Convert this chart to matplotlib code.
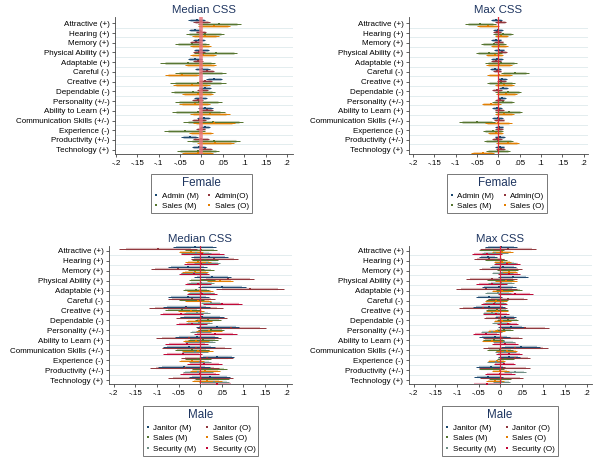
import matplotlib
matplotlib.use('Agg')
import matplotlib.pyplot as plt
from matplotlib.lines import Line2D
import numpy as np

plt.rcParams['font.family'] = ['Liberation Sans', 'DejaVu Sans']

categories = ["Attractive (+)", "Hearing (+)", "Memory (+)", "Physical Ability (+)",
              "Adaptable (+)", "Careful (-)", "Creative (+)", "Dependable (-)",
              "Personality (+/-)", "Ability to Learn (+)", "Communication Skills (+/-)",
              "Experience (-)", "Productivity (+/-)", "Technology (+)"]
x_ticks = [-0.2, -0.15, -0.1, -0.05, 0, 0.05, 0.1, 0.15, 0.2]
x_labels = ["-.2", "-.15", "-.1", "-.05", "0", ".05", ".1", ".15", ".2"]

# ---------- Female, Median CSS (point estimate b, 95% CI half-width hw) ----------
fmed_admin_m_b = [-0.011, -0.016, -0.006, 0.0, -0.015, 0.002, 0.030, 0.008, -0.002, 0.009, 0.005, 0.008, -0.028, -0.006]
fmed_admin_m_hw = [0.020, 0.014, 0.015, 0.017, 0.017, 0.017, 0.019, 0.015, 0.016, 0.017, 0.016, 0.012, 0.019, 0.017]
fmed_admin_o_b = [0.0, -0.002, -0.014, -0.006, -0.008, 0.014, 0.009, 0.002, -0.009, 0.013, -0.006, -0.002, -0.001, 0.009]
fmed_admin_o_hw = [0.019, 0.012, 0.012, 0.014, 0.012, 0.016, 0.015, 0.013, 0.013, 0.015, 0.016, 0.011, 0.019, 0.015]
fmed_sales_m_b = [0.042, 0.008, -0.022, 0.033, -0.032, -0.002, -0.008, -0.020, -0.007, -0.008, 0.027, -0.039, 0.029, -0.008]
fmed_sales_m_hw = [0.050, 0.045, 0.040, 0.050, 0.064, 0.060, 0.065, 0.052, 0.055, 0.062, 0.071, 0.048, 0.062, 0.050]
fmed_sales_o_b = [0.029, 0.009, -0.002, 0.003, -0.002, -0.045, -0.023, -0.009, -0.016, 0.019, 0.029, -0.002, 0.032, -0.009]
fmed_sales_o_hw = [0.038, 0.031, 0.024, 0.031, 0.037, 0.040, 0.044, 0.037, 0.036, 0.047, 0.050, 0.028, 0.043, 0.037]

# ---------- Female, Max CSS ----------
fmax_admin_m_b = [-0.005, -0.001, -0.005, 0.002, -0.003, -0.007, 0.009, 0.012, 0.008, -0.003, -0.002, 0.002, 0.003, 0.003]
fmax_admin_m_hw = [0.013, 0.012, 0.012, 0.012, 0.014, 0.012, 0.011, 0.011, 0.010, 0.012, 0.012, 0.010, 0.012, 0.011]
fmax_admin_o_b = [0.005, -0.003, 0.001, 0.009, -0.005, -0.003, 0.007, -0.003, 0.003, 0.002, 0.002, 0.002, -0.003, 0.005]
fmax_admin_o_hw = [0.012, 0.010, 0.011, 0.011, 0.012, 0.010, 0.010, 0.011, 0.010, 0.011, 0.012, 0.009, 0.012, 0.011]
fmax_sales_m_b = [-0.042, 0.011, -0.011, -0.022, 0.006, 0.038, 0.006, 0.022, 0.011, 0.024, -0.051, -0.012, 0.0, 0.0]
fmax_sales_m_hw = [0.036, 0.023, 0.029, 0.031, 0.037, 0.033, 0.032, 0.030, 0.025, 0.031, 0.042, 0.023, 0.034, 0.028]
fmax_sales_o_b = [-0.024, 0.007, 0.002, -0.009, 0.002, 0.002, 0.014, 0.019, -0.017, 0.014, 0.0, -0.006, 0.022, -0.037]
fmax_sales_o_hw = [0.026, 0.016, 0.020, 0.020, 0.030, 0.029, 0.022, 0.025, 0.022, 0.022, 0.031, 0.018, 0.027, 0.026]

# ---------- Male, Median CSS ----------
mmed_janitor_m_b = [-0.013, 0.021, -0.029, 0.028, 0.050, -0.027, -0.032, 0.004, 0.040, -0.008, -0.026, 0.039, -0.038, 0.022]
mmed_janitor_m_hw = [0.050, 0.043, 0.045, 0.043, 0.055, 0.047, 0.054, 0.050, 0.050, 0.050, 0.060, 0.040, 0.060, 0.048]
mmed_janitor_o_b = [-0.097, 0.033, -0.052, 0.064, 0.115, -0.020, -0.033, 0.003, 0.072, -0.026, -0.009, 0.015, -0.036, 0.001]
mmed_janitor_o_hw = [0.090, 0.055, 0.062, 0.060, 0.078, 0.055, 0.085, 0.060, 0.080, 0.075, 0.080, 0.060, 0.080, 0.075]
mmed_sales_m_b = [0.002, 0.012, 0.001, 0.005, -0.010, -0.020, -0.041, 0.018, 0.025, 0.006, -0.019, -0.005, 0.022, 0.027]
mmed_sales_m_hw = [0.037, 0.030, 0.030, 0.030, 0.030, 0.030, 0.040, 0.030, 0.030, 0.035, 0.040, 0.030, 0.040, 0.040]
mmed_sales_o_b = [-0.022, -0.004, -0.011, 0.045, 0.0, -0.005, -0.021, -0.002, 0.021, -0.009, -0.006, -0.020, 0.011, 0.015]
mmed_sales_o_hw = [0.028, 0.030, 0.030, 0.030, 0.030, 0.030, 0.030, 0.030, 0.030, 0.030, 0.035, 0.030, 0.035, 0.035]
mmed_security_m_b = [-0.010, 0.016, -0.015, 0.003, 0.001, 0.026, -0.008, -0.003, 0.001, 0.0, -0.013, 0.0, -0.005, 0.032]
mmed_security_m_hw = [0.035, 0.030, 0.030, 0.030, 0.030, 0.025, 0.030, 0.030, 0.025, 0.035, 0.030, 0.025, 0.035, 0.035]
mmed_security_o_b = [0.005, 0.002, -0.014, -0.006, 0.005, 0.051, -0.044, -0.020, 0.035, -0.031, -0.040, 0.010, -0.001, 0.038]
mmed_security_o_hw = [0.050, 0.040, 0.035, 0.030, 0.035, 0.045, 0.050, 0.035, 0.050, 0.050, 0.045, 0.040, 0.045, 0.040]

# ---------- Male, Max CSS ----------
mmax_janitor_m_b = [0.002, -0.028, 0.007, 0.030, -0.003, -0.025, -0.025, 0.012, 0.026, -0.013, 0.048, 0.020, -0.022, -0.027]
mmax_janitor_m_hw = [0.037, 0.020, 0.030, 0.035, 0.040, 0.030, 0.037, 0.025, 0.030, 0.035, 0.045, 0.025, 0.033, 0.033]
mmax_janitor_o_b = [0.019, -0.025, 0.0, -0.020, -0.032, 0.017, -0.040, -0.003, 0.057, 0.005, 0.035, 0.035, 0.010, 0.003]
mmax_janitor_o_hw = [0.065, 0.035, 0.050, 0.060, 0.070, 0.045, 0.055, 0.035, 0.055, 0.045, 0.075, 0.035, 0.060, 0.050]
mmax_sales_m_b = [-0.020, -0.010, 0.017, 0.0, 0.020, -0.008, -0.008, 0.017, 0.009, -0.015, 0.0, 0.012, -0.020, 0.0]
mmax_sales_m_hw = [0.030, 0.025, 0.025, 0.030, 0.030, 0.025, 0.025, 0.025, 0.020, 0.025, 0.030, 0.020, 0.030, 0.025]
mmax_sales_o_b = [0.005, 0.005, 0.020, 0.013, 0.005, -0.010, -0.008, 0.005, -0.008, -0.018, 0.015, -0.008, 0.0, -0.012]
mmax_sales_o_hw = [0.025, 0.020, 0.020, 0.025, 0.025, 0.025, 0.025, 0.020, 0.020, 0.025, 0.025, 0.020, 0.020, 0.020]
mmax_security_m_b = [-0.013, 0.012, 0.005, 0.003, -0.005, -0.012, -0.020, 0.002, -0.020, 0.009, 0.012, -0.010, 0.035, 0.003]
mmax_security_m_hw = [0.030, 0.025, 0.025, 0.030, 0.030, 0.025, 0.020, 0.020, 0.025, 0.025, 0.025, 0.020, 0.025, 0.020]
mmax_security_o_b = [-0.030, 0.015, 0.020, -0.020, 0.035, -0.015, -0.010, 0.017, -0.032, 0.012, 0.020, 0.010, -0.001, -0.030]
mmax_security_o_hw = [0.035, 0.030, 0.025, 0.035, 0.040, 0.030, 0.030, 0.025, 0.030, 0.030, 0.030, 0.025, 0.035, 0.035]

female_labels = ["Admin (M)", "Admin(O)", "Sales (M)", "Sales (O)"]
male_labels = ["Janitor (M)", "Janitor (O)", "Sales (M)", "Sales (O)", "Security (M)", "Security (O)"]

NAVY, MAROON, GREEN, ORANGE, TEAL, CRAN = "#1a476f", "#90353b", "#55752f", "#e37e00", "#6e8e84", "#c10534"
female_colors = [NAVY, MAROON, GREEN, ORANGE]
male_colors = [NAVY, MAROON, GREEN, ORANGE, TEAL, CRAN]
TITLE_COLOR = "#1e3560"

W, H = 600, 470
fig = plt.figure(figsize=(W / 100, H / 100), dpi=100)
fig.patch.set_facecolor("white")


def px_axes(x0, x1, y0, y1):
    return fig.add_axes([x0 / W, 1 - y1 / H, (x1 - x0) / W, (y1 - y0) / H])


def draw_panel(ax, series, colors, offsets, title, xlim, ylim, thick_lw, zero_kw):
    y = np.arange(1, len(categories) + 1)
    for g in y:
        ax.axhline(g + 0.45, color="#e3edef", lw=0.7, zorder=0)
    for (b, hw), color, off in zip(series, colors, offsets):
        b = np.asarray(b)
        se = np.asarray(hw) / 1.96
        yy = y + off
        ax.hlines(yy, b - 1.645 * se, b + 1.645 * se, color=color, lw=thick_lw, alpha=0.35, zorder=2)
        ax.hlines(yy, b - 1.96 * se, b + 1.96 * se, color=color, lw=0.7, zorder=3)
        ax.plot(b, yy, "s", ms=1.9, color=color, mew=0, zorder=4)
    ax.axvline(0, **zero_kw)
    ax.set_xlim(*xlim)
    ax.set_ylim(*ylim)
    ax.set_yticks(y)
    ax.set_yticklabels(categories)
    ax.set_xticks(x_ticks)
    ax.set_xticklabels(x_labels)
    ax.tick_params(axis="both", labelsize=5.8, length=2.5, width=0.6, color="#444444", pad=1.5)
    for s in ["top", "right"]:
        ax.spines[s].set_visible(False)
    for s in ["left", "bottom"]:
        ax.spines[s].set_color("#444444")
        ax.spines[s].set_linewidth(0.6)
    ax.set_title(title, fontsize=8.2, color=TITLE_COLOR, pad=3)


def add_legend(labels, colors, title, cx, ytop, ncol=2):
    handles = [Line2D([0], [0], marker="s", ls="none", ms=1.8, mew=0, color=c) for c in colors]
    # matplotlib fills legend columns first; reorder so entries read row by row
    order = [i for c in range(ncol) for i in range(c, len(labels), ncol)]
    handles = [handles[i] for i in order]
    labels = [labels[i] for i in order]
    leg = fig.legend(handles, labels, loc="upper center", bbox_to_anchor=(cx / W, 1 - ytop / H),
                     ncol=ncol, fontsize=5.8, title=title, title_fontsize=8.4, frameon=True,
                     fancybox=False, edgecolor="#555555", handlelength=0.6, handletextpad=0.4,
                     columnspacing=1.0, labelspacing=0.38, borderpad=0.35)
    leg.get_title().set_color(TITLE_COLOR)
    leg.get_frame().set_linewidth(0.7)
    return leg


off4 = [-0.3, -0.1, 0.1, 0.3]
off6 = [-0.35, -0.21, -0.07, 0.07, 0.21, 0.35]

# Top-left
ax1 = px_axes(115, 293, 17, 154)
draw_panel(ax1,
           [(fmed_admin_m_b, fmed_admin_m_hw), (fmed_admin_o_b, fmed_admin_o_hw),
            (fmed_sales_m_b, fmed_sales_m_hw), (fmed_sales_o_b, fmed_sales_o_hw)],
           female_colors, off4, "Median CSS", (-0.2023, 0.214), (14.44, 0.35), 2.2,
           dict(color="#e8787e", lw=2.6, alpha=0.85, zorder=5))
# Top-right
ax2 = px_axes(409, 588, 17, 154)
draw_panel(ax2,
           [(fmax_admin_m_b, fmax_admin_m_hw), (fmax_admin_o_b, fmax_admin_o_hw),
            (fmax_sales_m_b, fmax_sales_m_hw), (fmax_sales_o_b, fmax_sales_o_hw)],
           female_colors, off4, "Max CSS", (-0.2094, 0.21), (14.44, 0.35), 2.2,
           dict(color="#e0303a", lw=0.9, zorder=5))
# Bottom-left
ax3 = px_axes(109, 292, 246, 384)
draw_panel(ax3,
           [(mmed_janitor_m_b, mmed_janitor_m_hw), (mmed_janitor_o_b, mmed_janitor_o_hw),
            (mmed_sales_m_b, mmed_sales_m_hw), (mmed_sales_o_b, mmed_sales_o_hw),
            (mmed_security_m_b, mmed_security_m_hw), (mmed_security_o_b, mmed_security_o_hw)],
           male_colors, off6, "Median CSS", (-0.2108, 0.2124), (14.4, 0.5), 1.6,
           dict(color="#d7263d", lw=0.9, zorder=5))
# Bottom-right
ax4 = px_axes(409, 592, 246, 384)
draw_panel(ax4,
           [(mmax_janitor_m_b, mmax_janitor_m_hw), (mmax_janitor_o_b, mmax_janitor_o_hw),
            (mmax_sales_m_b, mmax_sales_m_hw), (mmax_sales_o_b, mmax_sales_o_hw),
            (mmax_security_m_b, mmax_security_m_hw), (mmax_security_o_b, mmax_security_o_hw)],
           male_colors, off6, "Max CSS", (-0.2108, 0.2124), (14.4, 0.5), 1.6,
           dict(color="#d7263d", lw=0.9, zorder=5))

add_legend(female_labels, female_colors, "Female", 201.5, 170)
add_legend(female_labels, female_colors, "Female", 497, 170)
add_legend(male_labels, male_colors, "Male", 200.5, 402)
add_legend(male_labels, male_colors, "Male", 500, 402)

fig.savefig("out.png", dpi=100, facecolor="white")
